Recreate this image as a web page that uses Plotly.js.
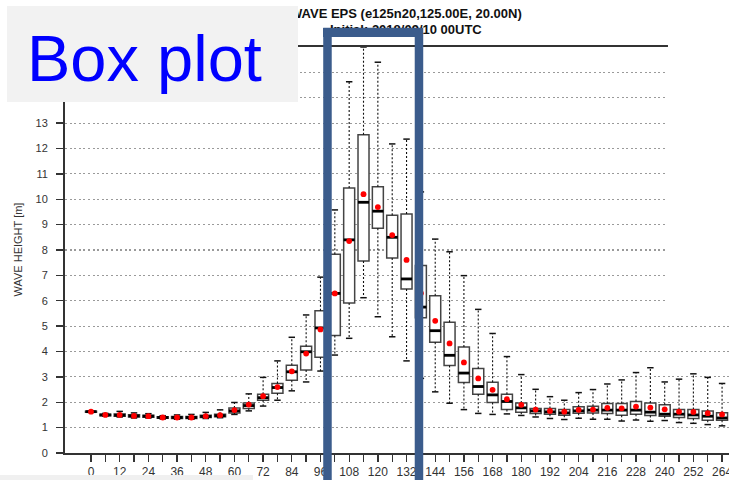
<!DOCTYPE html>
<html>
<head>
<meta charset="utf-8">
<script src="https://cdn.plot.ly/plotly-3.0.1.min.js"></script>
<style>
  html, body { margin: 0; padding: 0; background: #ffffff; overflow: hidden; }
  #chart { width: 729px; height: 480px; }
</style>
</head>
<body>
<div id="chart"></div>
<script>
// Forecast lead time (hours)
const hours = [0, 6, 12, 18, 24, 30, 36, 42, 48, 54, 60, 66, 72, 78, 84, 90, 96, 102, 108, 114, 120, 126, 132, 138, 144, 150, 156, 162, 168, 174, 180, 186, 192, 198, 204, 210, 216, 222, 228, 234, 240, 246, 252, 258, 264];

// X tick labels (ticks every 6 h, labels every 12 h)
const xTickText = ['0', '', '12', '', '24', '', '36', '', '48', '', '60', '', '72', '', '84', '', '96', '', '108', '', '120', '', '132', '', '144', '', '156', '', '168', '', '180', '', '192', '', '204', '', '216', '', '228', '', '240', '', '252', '', '264'];

// Y ticks (labels above 13 are hidden behind the caption box in the reference)
const yTickVals = [0, 1, 2, 3, 4, 5, 6, 7, 8, 9, 10, 11, 12, 13, 14, 15, 16];
const yTickText = ['0', '1', '2', '3', '4', '5', '6', '7', '8', '9', '10', '11', '12', '13', '', '', ''];

// Ensemble statistics of wave height [m]
const whiskerLow = [1.60, 1.45, 1.42, 1.38, 1.38, 1.34, 1.33, 1.33, 1.36, 1.39, 1.52, 1.66, 1.85, 2.08, 2.45, 2.80, 3.23, 3.86, 4.52, 6.12, 5.37, 4.58, 3.63, 2.94, 2.41, 1.96, 1.71, 1.56, 1.52, 1.54, 1.48, 1.42, 1.36, 1.32, 1.37, 1.33, 1.33, 1.26, 1.30, 1.25, 1.28, 1.20, 1.17, 1.12, 1.07];
const q1 = [1.61, 1.47, 1.45, 1.42, 1.41, 1.37, 1.36, 1.36, 1.40, 1.43, 1.58, 1.75, 2.08, 2.35, 2.87, 3.27, 3.77, 4.63, 5.91, 7.57, 8.86, 7.68, 6.46, 5.33, 4.36, 3.45, 2.78, 2.32, 1.99, 1.71, 1.61, 1.56, 1.53, 1.49, 1.57, 1.58, 1.56, 1.49, 1.53, 1.48, 1.45, 1.40, 1.36, 1.29, 1.29];
const median = [1.63, 1.50, 1.49, 1.46, 1.45, 1.40, 1.40, 1.40, 1.44, 1.47, 1.66, 1.87, 2.18, 2.58, 3.20, 3.99, 4.93, 6.29, 8.40, 9.88, 9.53, 8.50, 6.86, 5.75, 4.82, 3.85, 3.15, 2.62, 2.29, 2.03, 1.78, 1.66, 1.62, 1.58, 1.66, 1.69, 1.69, 1.69, 1.69, 1.61, 1.53, 1.53, 1.50, 1.45, 1.38];
const q3 = [1.65, 1.53, 1.54, 1.51, 1.49, 1.43, 1.44, 1.44, 1.49, 1.53, 1.77, 1.97, 2.32, 2.74, 3.46, 4.21, 5.61, 7.83, 10.44, 12.54, 10.49, 9.37, 9.42, 7.39, 6.20, 5.15, 4.18, 3.33, 2.79, 2.32, 1.97, 1.75, 1.75, 1.71, 1.82, 1.84, 1.95, 1.95, 2.03, 1.97, 1.90, 1.71, 1.71, 1.66, 1.59];
const whiskerHigh = [1.66, 1.56, 1.64, 1.58, 1.55, 1.47, 1.50, 1.52, 1.60, 1.70, 1.99, 2.33, 2.98, 3.63, 4.56, 5.44, 6.93, 9.58, 14.63, 16.00, 15.40, 12.18, 12.37, 10.29, 8.43, 7.93, 6.99, 5.66, 4.71, 3.80, 3.09, 2.51, 2.22, 2.08, 2.38, 2.50, 2.72, 2.88, 3.17, 3.36, 2.80, 2.91, 3.12, 2.98, 2.74];
const meanVal = [1.63, 1.50, 1.50, 1.46, 1.45, 1.40, 1.40, 1.40, 1.45, 1.49, 1.69, 1.91, 2.24, 2.60, 3.22, 3.92, 4.87, 6.29, 8.35, 10.20, 9.69, 8.59, 7.61, 6.30, 5.21, 4.32, 3.57, 2.94, 2.49, 2.12, 1.90, 1.71, 1.66, 1.63, 1.70, 1.71, 1.78, 1.76, 1.83, 1.79, 1.72, 1.63, 1.62, 1.57, 1.52];

// Whisker segments (dotted), built from the data arrays
const wx = [], wy = [];
hours.forEach(function (h, i) {
  wx.push(h, h, null, h, h, null);
  wy.push(q3[i], whiskerHigh[i], null, q1[i], whiskerLow[i], null);
});

const FONT = 'Liberation Sans, Arial, Helvetica, sans-serif';

const traces = [
  {
    type: 'scatter', mode: 'lines', x: wx, y: wy,
    line: { color: '#111111', width: 1.1, dash: '2px,2px' },
    hoverinfo: 'skip', showlegend: false
  },
  {
    type: 'box', x: hours, q1: q1, median: median, q3: q3,
    lowerfence: q1, upperfence: q3,
    width: 4.6, whiskerwidth: 0, boxpoints: false,
    fillcolor: '#ffffff', line: { color: '#444444', width: 1.5 },
    hoverinfo: 'skip', showlegend: false
  },
  {
    type: 'scatter', mode: 'markers', x: hours.concat(hours), y: whiskerHigh.concat(whiskerLow),
    marker: { symbol: 'line-ew', size: 4.6, color: '#111111', line: { color: '#111111', width: 1.5 } },
    hoverinfo: 'skip', showlegend: false
  },
  {
    type: 'scatter', mode: 'markers', x: hours, y: median,
    marker: { symbol: 'line-ew', size: 7.9, color: '#000000', line: { color: '#000000', width: 2.8 } },
    hoverinfo: 'skip', showlegend: false
  },
  {
    type: 'scatter', mode: 'markers', x: hours, y: meanVal,
    marker: { symbol: 'circle', size: 5.8, color: '#ff0000', line: { width: 0 } },
    hoverinfo: 'skip', showlegend: false
  }
];

const layout = {
  width: 729, height: 480,
  margin: { l: 65, r: 0, t: 47, b: 27, pad: 0 },
  paper_bgcolor: '#ffffff', plot_bgcolor: '#ffffff',
  font: { family: FONT, color: '#333333' },
  showlegend: false,
  xaxis: {
    range: [-10.88, 266.9],
    tickmode: 'array', tickvals: hours, ticktext: xTickText,
    ticks: 'outside', ticklen: 7, tickwidth: 1.3, tickcolor: '#333333',
    showline: true, linecolor: '#333333', linewidth: 2, mirror: true,
    showgrid: false, zeroline: false,
    tickfont: { family: FONT, size: 12, color: '#333333' },
    ticklabelstandoff: 2.5, ticklabeloverflow: 'allow'
  },
  yaxis: {
    range: [0, 16], tickmode: 'array', tickvals: yTickVals, ticktext: yTickText,
    ticks: 'outside', ticklen: 7, tickwidth: 1.3, tickcolor: '#333333',
    showline: true, linecolor: '#333333', linewidth: 2,
    showgrid: true, gridcolor: '#9a9a9a', gridwidth: 1.2, griddash: '2px,2.6px',
    zeroline: false,
    tickfont: { family: FONT, size: 11, color: '#333333' },
    ticklabelstandoff: 6
  },
  shapes: [
    { type: 'rect', xref: 'paper', yref: 'paper', x0: -0.11, x1: 0.2831, y0: -0.09, y1: -0.0541,
      fillcolor: '#f0f0f0', line: { width: 0 }, layer: 'above' },
    { type: 'rect', xref: 'paper', yref: 'paper', x0: 0.9081, x1: 1.05, y0: 0.344, y1: 1.2,
      fillcolor: '#ffffff', line: { width: 0 }, layer: 'above' },
    { type: 'rect', xref: 'paper', yref: 'paper', x0: 0.3953, x1: 0.5331, y0: -0.2, y1: 1.0369,
      fillcolor: 'rgba(0,0,0,0)', line: { color: '#3b5c8c', width: 8.5 }, layer: 'above' }
  ],
  annotations: [
    { xref: 'paper', yref: 'paper', x: 0.5136, y: 1.0835, xanchor: 'center', yanchor: 'middle',
      text: '<b>WAVE EPS (e125n20,125.00E, 20.00N)</b>', showarrow: false,
      font: { family: FONT, size: 13, color: '#111111' } },
    { xref: 'paper', yref: 'paper', x: 0.5136, y: 1.043, xanchor: 'center', yanchor: 'middle',
      text: '<b>Initial: 2018/09/10 00UTC</b>', showarrow: false,
      font: { family: FONT, size: 13, color: '#111111' } },
    { xref: 'paper', yref: 'paper', x: 0.4642, y: 1.0369, xanchor: 'center', yanchor: 'middle',
      text: ' ', showarrow: false, width: 100, height: 8.5, borderpad: 0, borderwidth: 0,
      bgcolor: '#3b5c8c', font: { size: 4 } },
    { xref: 'paper', yref: 'paper', x: 0.1318, y: 0.9828, xanchor: 'center', yanchor: 'middle',
      text: ' ', showarrow: false, width: 291, height: 96, borderpad: 0, borderwidth: 0,
      bgcolor: '#f2f2f2', font: { size: 4 } },
    { xref: 'paper', yref: 'paper', x: -0.0602, y: 0.9717, xanchor: 'left', yanchor: 'middle',
      text: 'Box plot', showarrow: false,
      font: { family: FONT, size: 65, color: '#0000ff' } },
    { xref: 'paper', yref: 'paper', x: -0.0708, y: 0.5012, xanchor: 'center', yanchor: 'middle',
      text: 'WAVE HEIGHT [m]', textangle: -90, showarrow: false,
      font: { family: FONT, size: 11, color: '#333333' } }
  ]
};

Plotly.newPlot('chart', traces, layout, { displayModeBar: false, staticPlot: true });
</script>
</body>
</html>
